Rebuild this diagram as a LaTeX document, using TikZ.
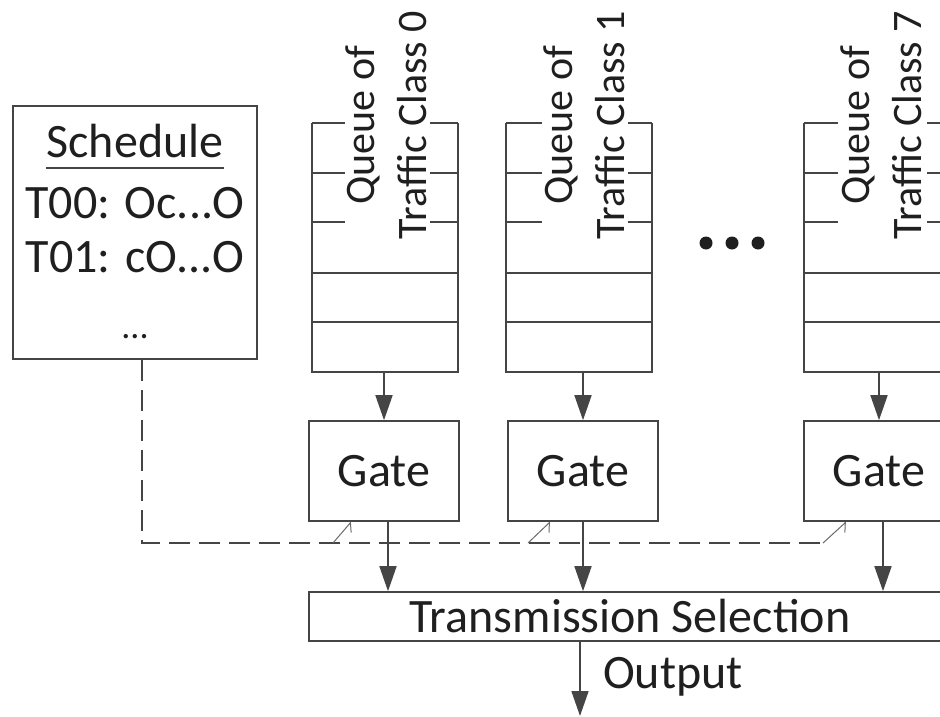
\documentclass[tikz,border=0pt]{standalone}
\usepackage{fontspec}
\setmainfont{Carlito}
\usetikzlibrary{arrows.meta}
\definecolor{ln}{gray}{0.27}
\definecolor{tx}{gray}{0.12}
\begin{document}
\begin{tikzpicture}[x=1pt,y=-1pt,
  box/.style={draw=ln, line width=1.6pt, inner sep=0pt},
  big/.style={font=\fontsize{48}{58}\selectfont, text=tx},
  qlabel/.style={font=\fontsize{42}{52}\selectfont, text=tx, rotate=90, align=center, inner sep=0pt},
  qline/.style={draw=ln, line width=1.6pt},
  arr/.style={draw=ln, line width=1.6pt, -{Triangle[length=25pt,width=17pt]}},
  sig/.style={draw=ln, line width=1.6pt, dash pattern=on 21pt off 9pt},
  harp/.style={draw=ln!80, line width=1pt, -{Straight Barb[harpoon,swap,length=7pt,width=14pt]}},
  qshape/.style={inner sep=0pt, minimum width=146pt, minimum height=249pt}
]
\useasboundingbox (0,0) rectangle (940,717);

% Schedule
\node[box, minimum width=244pt, minimum height=253pt] (sched) at (135,232.5) {};
\node[big, anchor=base, inner sep=0pt] (stitle) at (135,157) {Schedule};
\draw[ln, line width=1.6pt] ([yshift=-11pt]stitle.base west) -- ([yshift=-11pt]stitle.base east);
\node[big, anchor=base] (t00) at (135,218) {T00: Oc...O};
\node[big, anchor=base] (t01) at (135,272) {T01: cO...O};
\node[font=\fontsize{36}{40}\selectfont, text=tx, anchor=base] (tdots) at (135,338) {...};

% Queues
\node[qshape] (q0) at (385,247.5) {};
\node[qshape] (q1) at (579,247.5) {};
\node[qshape] (q7) at (877,247.5) {};
\foreach \q/\gl/\gr in {q0/345/430, q1/542/628, q7/838/927}{
  \draw[qline] (\q.north west) -- (\q.south west) -- (\q.south east) -- (\q.north east);
  \foreach \y in {123,173,222}{
    \draw[qline] (\q.west |- 0,\y) -- (\gl,\y);
    \draw[qline] (\gr,\y) -- (\q.east |- 0,\y);
  }
  \foreach \y in {273,322}{
    \draw[qline] (\q.west |- 0,\y) -- (\q.east |- 0,\y);
  }
}
\node[qlabel] (l0) at (386,125) {Queue of\\Traffic Class 0};
\node[qlabel] (l1) at (584,125) {Queue of\\Traffic Class 1};
\node[qlabel] (l7) at (881,125) {Queue of\\Traffic Class 7};

% dots
\fill[tx] (706,243) circle (6.5pt) (732,243) circle (6.5pt) (758,243) circle (6.5pt);

% Gates
\node[box, big, minimum width=150pt, minimum height=100pt] (g0) at (384,471) {Gate};
\node[box, big, minimum width=150pt, minimum height=100pt] (g1) at (583,471) {Gate};
\node[box, big, minimum width=150pt, minimum height=100pt] (g7) at (879,471) {Gate};

% Transmission selection
\node[box, big, minimum width=642pt, minimum height=49pt] (ts) at (630,616.5) {Transmission Selection};

% arrows queue -> gate
\draw[arr] (q0.south -| g0.north) -- (g0.north);
\draw[arr] (q1.south -| g1.north) -- (g1.north);
\draw[arr] (q7.south -| g7.north) -- (g7.north);
% arrows gate -> ts
\draw[arr] ([xshift=4pt]g0.south) -- ([xshift=4pt]g0.south |- ts.north);
\draw[arr] (g1.south) -- (g1.south |- ts.north);
\draw[arr] ([xshift=4pt]g7.south) -- ([xshift=4pt]g7.south |- ts.north);

% output
\coordinate (out) at (580,716);
\draw[arr] (ts.south -| out) -- (out);
\node[big, anchor=base west, inner sep=0pt] (outl) at (603,688) {Output};

% schedule signal
\coordinate (dc) at (142,543);
\coordinate (d0) at (333,543);
\coordinate (d1) at (528,543);
\coordinate (d7) at (823,543);
\draw[sig] (sched.south -| dc) -- (dc) -- (d7);
\draw[harp] (d0) -- ([xshift=43pt]g0.south west);
\draw[harp] (d1) -- ([xshift=43pt]g1.south west);
\draw[harp] (d7) -- ([xshift=43pt]g7.south west);
\end{tikzpicture}
\end{document}
